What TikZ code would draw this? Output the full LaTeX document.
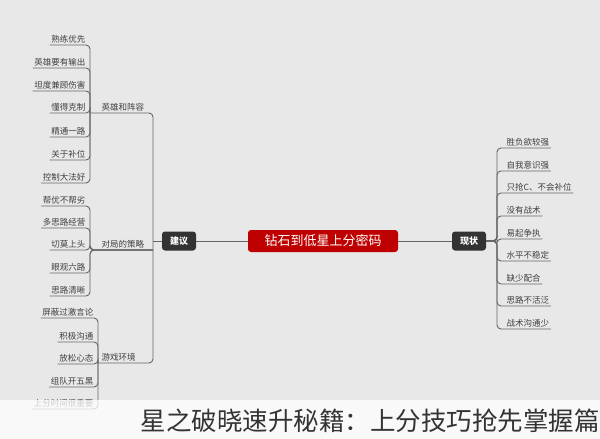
\documentclass[tikz,border=0pt]{standalone}
\usepackage{fontspec}
\setmainfont{Noto Sans CJK SC}
\begin{document}
\begin{tikzpicture}[x=1pt,y=-1pt,
    link/.style={draw=gray!80!black, line width=0.9pt, rounded corners=4pt},
    leaf/.style={font=\fontsize{8.5}{9}\selectfont, text=black!75, inner sep=1.5pt},
    topic/.style={fill=black!80, text=white, rounded corners=3pt, font=\fontsize{9}{10}\selectfont\bfseries, minimum width=34pt, minimum height=19pt}]
    % Hintergrund
    \fill[black!9] (0,0) rectangle (600,439);
    \useasboundingbox (0,0) rectangle (600,439);

    % Zentrale Knoten
    \node[fill=red!75!black, text=white, rounded corners=3pt, font=\fontsize{13}{14}\selectfont, minimum width=150pt, minimum height=22pt] (root) at (323,241) {钻石到低星上分密码};
    \node[topic] (jianyi) at (179,241) {建议};
    \node[topic] (xianzhuang) at (469,241) {现状};
    \draw[link] (jianyi) -- (root);
    \draw[link] (root) -- (xianzhuang);

    % Linke Seite: Gruppen
    \foreach \name/\txt/\py in {g1/英雄和阵容/113, g2/对局的策略/250, g3/游戏环境/363} {
        \node[leaf, anchor=south west] (\name) at (100,\py) {\txt};
    }
    \draw[link] (jianyi.west) -- (153,241);
    \draw[link] (90,113) -- (153,113) -- (153,363) -- (98,363);

    % Gruppe 1
    \foreach \i/\txt/\uy in {1/熟练优先/45, 2/英雄要有输出/68, 3/坦度兼顾伤害/91, 4/懂得克制/113, 5/精通一路/137, 6/关于补位/160, 7/控制大法好/183} {
        \node[leaf, anchor=south east] (a\i) at (87,\uy) {\txt};
        \draw[link] (a\i.south west) -- (90,\uy) -- (90,113);
    }
    % Gruppe 2
    \foreach \i/\txt/\uy in {1/帮优不帮劣/206, 2/多思路经营/228, 3/切莫上头/250, 4/眼观六路/273, 5/思路清晰/296} {
        \node[leaf, anchor=south east] (b\i) at (87,\uy) {\txt};
        \draw[link] (b\i.south west) -- (90,\uy) -- (90,250) -- (153,250);
    }
    % Gruppe 3
    \foreach \i/\txt/\uy in {1/屏蔽过激言论/318, 2/积极沟通/342, 3/放松心态/364, 4/组队开五黑/387, 5/上分时间很重要/409} {
        \node[leaf, anchor=south east] (c\i) at (95,\uy) {\txt};
        \draw[link] (c\i.south west) -- (98,\uy) -- (98,363);
    }

    % Rechte Seite
    \foreach \i/\txt/\uy in {1/胜负欲较强/148, 2/自我意识强/171, 3/只抢C、不会补位/193, 4/没有战术/216, 5/易起争执/239, 6/水平不稳定/261, 7/缺少配合/284, 8/思路不活泛/306, 9/战术沟通少/329} {
        \node[leaf, anchor=south west] (r\i) at (505,\uy) {\txt};
        \draw[link] (xianzhuang.east) -- (497,241) -- (497,\uy) -- (r\i.south east);
    }

    % Untertitel
    \fill[white, opacity=0.75] (0,400) rectangle (600,439);
    \node[font=\fontsize{25.5}{27}\selectfont, text=black!80, anchor=east, inner sep=0pt] (title) at (600,421) {星之破晓速升秘籍：上分技巧抢先掌握篇};
\end{tikzpicture}
\end{document}
